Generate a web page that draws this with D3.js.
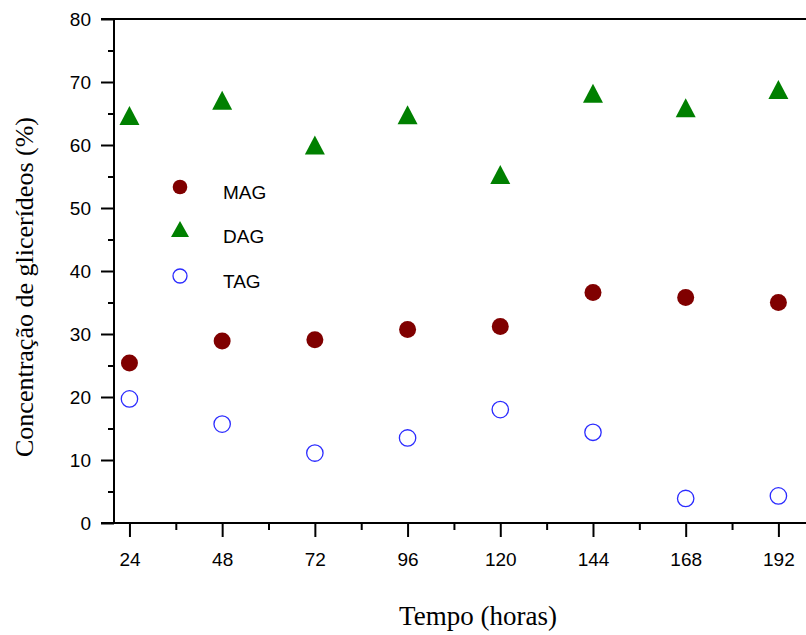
<!DOCTYPE html>
<html>
<head>
<meta charset="utf-8">
<script src="https://cdn.jsdelivr.net/npm/d3@7"></script>
<style>
  body { margin: 0; background: #fff; }
  svg { display: block; }
  .tick text { font-family: "Liberation Sans", Arial, sans-serif; font-size: 19px; fill: #000; }
</style>
</head>
<body>
<svg width="806" height="635"></svg>
<script>
var hours = [24, 48, 72, 96, 120, 144, 168, 192];
var mag = [25.4, 28.9, 29.1, 30.7, 31.2, 36.6, 35.8, 35.0];
var dag = [64.7, 67.1, 60.0, 64.8, 55.3, 68.2, 65.9, 68.8];
var tag = [19.7, 15.7, 11.1, 13.5, 18.0, 14.4, 3.9, 4.3];
var yTicks = [0, 10, 20, 30, 40, 50, 60, 70, 80];
var yMinor = [5, 15, 25, 35, 45, 55, 65, 75];
var xMinor = [36, 60, 84, 108, 132, 156, 180];

var svg = d3.select('svg');

var x = d3.scaleLinear().domain([20, 200]).range([114, 809.3]);
var y = d3.scaleLinear().domain([0, 80]).range([523, 19]);

// frame lines
svg.append('line').attr('x1', 101).attr('x2', 806).attr('y1', y(80)).attr('y2', y(80))
	.attr('stroke', '#000').attr('stroke-width', 2);
svg.append('line').attr('x1', 101).attr('x2', 806).attr('y1', y(0)).attr('y2', y(0))
	.attr('stroke', '#000').attr('stroke-width', 2);
svg.append('line').attr('x1', 114).attr('x2', 114).attr('y1', y(80)).attr('y2', y(0))
	.attr('stroke', '#000').attr('stroke-width', 2);

// y axis
var gy = svg.append('g').attr('transform', 'translate(114,0)')
	.call(d3.axisLeft(y).tickValues(yTicks).tickSize(13).tickSizeOuter(0).tickPadding(10));
gy.select('.domain').remove();
gy.selectAll('.tick line').attr('stroke-width', 2);
svg.append('g').attr('transform', 'translate(114,0)')
	.call(d3.axisLeft(y).tickValues(yMinor).tickSize(6).tickFormat(''))
	.call(function(g) { g.select('.domain').remove(); g.selectAll('.tick line').attr('stroke-width', 2); });

// x axis
var gx = svg.append('g').attr('transform', 'translate(0,523)')
	.call(d3.axisBottom(x).tickValues(hours).tickSize(14).tickSizeOuter(0).tickPadding(16));
gx.select('.domain').remove();
gx.selectAll('.tick line').attr('stroke-width', 2);
svg.append('g').attr('transform', 'translate(0,523)')
	.call(d3.axisBottom(x).tickValues(xMinor).tickSize(7).tickFormat(''))
	.call(function(g) { g.select('.domain').remove(); g.selectAll('.tick line').attr('stroke-width', 2); });

// axis titles
svg.append('text')
	.attr('x', 478).attr('y', 625)
	.attr('text-anchor', 'middle')
	.style('font-family', '"Liberation Serif", "Times New Roman", serif')
	.style('font-size', '27px')
	.text('Tempo (horas)');
svg.append('text')
	.attr('transform', 'translate(33,287) rotate(-90)')
	.attr('text-anchor', 'middle')
	.style('font-family', '"Liberation Serif", "Times New Roman", serif')
	.style('font-size', '26px')
	.text('Concentração de glicerídeos (%)');

// triangle centred on its box, like the original markers
function triangle(w, h) {
	return 'M0,' + (-h / 2) + 'L' + (w / 2) + ',' + (h / 2) + 'L' + (-w / 2) + ',' + (h / 2) + 'Z';
}

// data
svg.append('g').selectAll('circle').data(mag).join('circle')
	.attr('cx', function(d, i) { return x(hours[i]); })
	.attr('cy', function(d) { return y(d); })
	.attr('r', 8.5)
	.attr('fill', '#800000');

svg.append('g').selectAll('path').data(dag).join('path')
	.attr('d', triangle(20, 19))
	.attr('transform', function(d, i) { return 'translate(' + x(hours[i]) + ',' + y(d) + ')'; })
	.attr('fill', '#008000');

svg.append('g').selectAll('circle').data(tag).join('circle')
	.attr('cx', function(d, i) { return x(hours[i]); })
	.attr('cy', function(d) { return y(d); })
	.attr('r', 8.2)
	.attr('fill', 'none')
	.attr('stroke', '#2b2bff')
	.attr('stroke-width', 1.3);

// legend
var leg = svg.append('g').style('font-family', '"Liberation Sans", Arial, sans-serif').style('font-size', '19px');
leg.append('circle').attr('cx', 180).attr('cy', 187).attr('r', 7.3).attr('fill', '#800000');
leg.append('path').attr('d', triangle(18, 16)).attr('transform', 'translate(180,229)').attr('fill', '#008000');
leg.append('circle').attr('cx', 180).attr('cy', 276).attr('r', 7).attr('fill', 'none')
	.attr('stroke', '#2b2bff').attr('stroke-width', 1.3);
leg.append('text').attr('x', 223).attr('y', 199).text('MAG');
leg.append('text').attr('x', 223).attr('y', 243).text('DAG');
leg.append('text').attr('x', 223).attr('y', 288).text('TAG');
</script>
</body>
</html>
